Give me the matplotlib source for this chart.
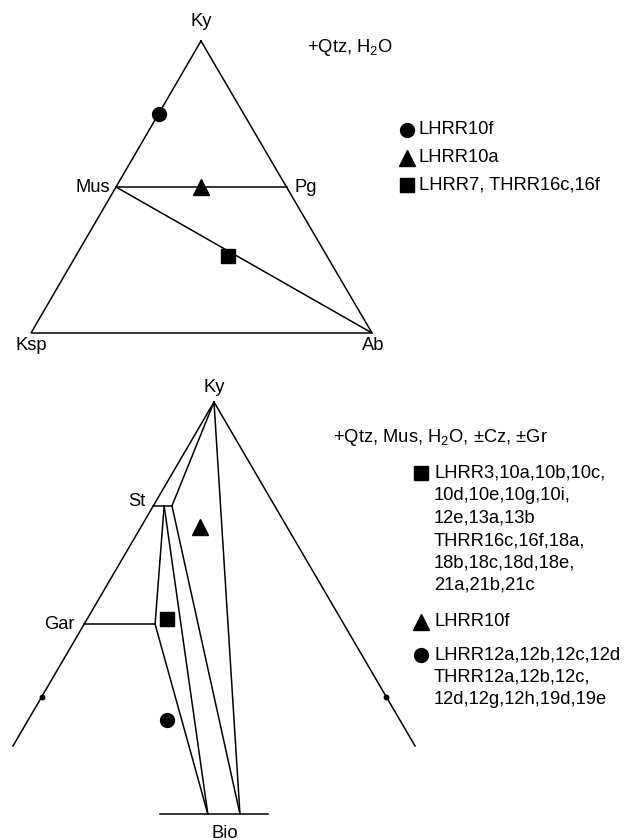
import matplotlib
matplotlib.use("Agg")
import matplotlib.pyplot as plt

plt.rcParams['font.family'] = ['Liberation Sans', 'DejaVu Sans']

# ---------------- data ----------------
# Top diagram: ternary compositions (Ky, Ksp, Ab)
top_vertices = {"Ky": (1, 0, 0), "Ksp": (0, 1, 0), "Ab": (0, 0, 1)}
top_phases = {"Mus": (0.5, 0.5, 0), "Pg": (0.5, 0, 0.5)}
top_tielines = [("Mus", "Pg"), ("Mus", "Ab")]
top_samples = {"circle": (0.75, 0.25, 0.0),
               "triangle": (0.5, 0.25, 0.25),
               "square": (0.264, 0.29, 0.446)}
top_legend_labels = ["LHRR10f", "LHRR10a", "LHRR7, THRR16c,16f"]
top_assemblage = r"+Qtz, $\mathregular{H_2O}$"

# Bottom diagram: projected compositions (u, v); Ky at apex, Bio at base
bot_points = {"Ky": (0.0, 1.0), "Lend": (-0.488, 0.165), "Rend": (0.488, 0.165),
              "St": (-0.147, 0.748), "StR": (-0.102, 0.748), "StM": (-0.121, 0.748),
              "Gar": (-0.143, 0.461), "GarL": (-0.315, 0.461),
              "BioL": (-0.015, 0.0), "BioR": (0.063, 0.0),
              "BioA": (-0.131, 0.0), "BioB": (0.131, 0.0)}
bot_lines = [("Ky", "Lend"), ("Ky", "Rend"), ("St", "StR"), ("Ky", "StR"),
             ("StM", "Gar"), ("GarL", "Gar"), ("Gar", "BioL"), ("StM", "BioL"),
             ("StR", "BioR"), ("Ky", "BioR"), ("BioA", "BioB")]
bot_ticks = [(-0.418, 0.284), (0.418, 0.284)]
bot_samples = {"square": (-0.114, 0.473), "triangle": (-0.034, 0.697),
               "circle": (-0.114, 0.228)}
bot_assemblage = r"+Qtz, Mus, $\mathregular{H_2O}$, ±Cz, ±Gr"
bot_legend = [("s", ["LHRR3,10a,10b,10c,", "10d,10e,10g,10i,", "12e,13a,13b",
                     "THRR16c,16f,18a,", "18b,18c,18d,18e,", "21a,21b,21c"]),
              ("^", ["LHRR10f"]),
              ("o", ["LHRR12a,12b,12c,12d", "THRR12a,12b,12c,",
                     "12d,12g,12h,19d,19e"])]

# ---------------- layout ----------------
W, H = 628, 840
fig = plt.figure(figsize=(W / 100, H / 100), dpi=100)
ax = fig.add_axes([0, 0, 1, 1])
ax.set_xlim(0, W)
ax.set_ylim(H, 0)
ax.axis('off')

FS = 13.2
LW = 1.1
TOP_XY = {"Ky": (201, 41), "Ksp": (31, 333), "Ab": (372, 333)}


def tern(c):
    ky, ksp, ab = c
    s = ky + ksp + ab
    x = (ky * TOP_XY["Ky"][0] + ksp * TOP_XY["Ksp"][0] + ab * TOP_XY["Ab"][0]) / s
    y = (ky * TOP_XY["Ky"][1] + ksp * TOP_XY["Ksp"][1] + ab * TOP_XY["Ab"][1]) / s
    return x, y


BOT_O = (214, 814)
BOT_S = 412


def proj(p):
    u, v = p
    return BOT_O[0] + u * BOT_S, BOT_O[1] - v * BOT_S


mk = {"circle": "o", "triangle": "^", "square": "s"}
msz = {"o": 10, "^": 11, "s": 10}

# ---- top diagram ----
outline = [tern(top_vertices[k]) for k in ["Ky", "Ksp", "Ab", "Ky"]]
ax.plot([p[0] for p in outline], [p[1] for p in outline], color='black', lw=LW,
        solid_joinstyle='miter')
allpts = {**top_vertices, **top_phases}
for a, b in top_tielines:
    pa, pb = tern(allpts[a]), tern(allpts[b])
    ax.plot([pa[0], pb[0]], [pa[1], pb[1]], color='black', lw=LW)
for name, c in top_samples.items():
    x, y = tern(c)
    m = mk[name]
    ax.plot(x, y, marker=m, ms=msz[m], color='black', ls='none')

x, y = tern(top_vertices["Ky"])
ax.text(x, y - 20, "Ky", ha='center', va='center', fontsize=FS)
x, y = tern(top_vertices["Ksp"])
ax.text(x, y + 13, "Ksp", ha='center', va='center', fontsize=FS)
x, y = tern(top_vertices["Ab"])
ax.text(x + 1, y + 13, "Ab", ha='center', va='center', fontsize=FS)
x, y = tern(top_phases["Mus"])
ax.text(x - 6, y, "Mus", ha='right', va='center', fontsize=FS)
x, y = tern(top_phases["Pg"])
ax.text(x + 8, y, "Pg", ha='left', va='center', fontsize=FS)
ax.text(307, 48, top_assemblage, ha='left', va='center', fontsize=FS)

for i, (m, lab) in enumerate(zip(["o", "^", "s"], top_legend_labels)):
    yy = 130 + i * 27.5
    ax.plot(407, yy, marker=m, ms=msz[m], color='black', ls='none')
    ax.text(419, yy, lab, ha='left', va='center', fontsize=FS)

# ---- bottom diagram ----
for a, b in bot_lines:
    pa, pb = proj(bot_points[a]), proj(bot_points[b])
    ax.plot([pa[0], pb[0]], [pa[1], pb[1]], color='black', lw=LW)
for t in bot_ticks:
    x, y = proj(t)
    ax.plot(x, y, marker='o', ms=3.2, color='black', ls='none')
for name, c in bot_samples.items():
    x, y = proj(c)
    m = mk[name]
    ax.plot(x, y, marker=m, ms=msz[m], color='black', ls='none')

x, y = proj(bot_points["Ky"])
ax.text(x, y - 15, "Ky", ha='center', va='center', fontsize=FS)
x, y = proj(bot_points["St"])
ax.text(x - 8, y - 4, "St", ha='right', va='center', fontsize=FS)
x, y = proj(bot_points["GarL"])
ax.text(x - 10, y, "Gar", ha='right', va='center', fontsize=FS)
x, y = proj(((bot_points["BioA"][0] + bot_points["BioB"][0]) / 2, 0))
ax.text(x + 11, y + 19, "Bio", ha='center', va='center', fontsize=FS)
ax.text(333, 438, bot_assemblage, ha='left', va='center', fontsize=FS)

legend_y = [473, 622, 655]
for (m, lines), y0 in zip(bot_legend, legend_y):
    ax.plot(421, y0, marker=m, ms=msz[m], color='black', ls='none')
    for j, txt in enumerate(lines):
        ax.text(434, y0 + j * 22.5, txt, ha='left', va='center', fontsize=FS)

fig.savefig("out.png", dpi=100)
